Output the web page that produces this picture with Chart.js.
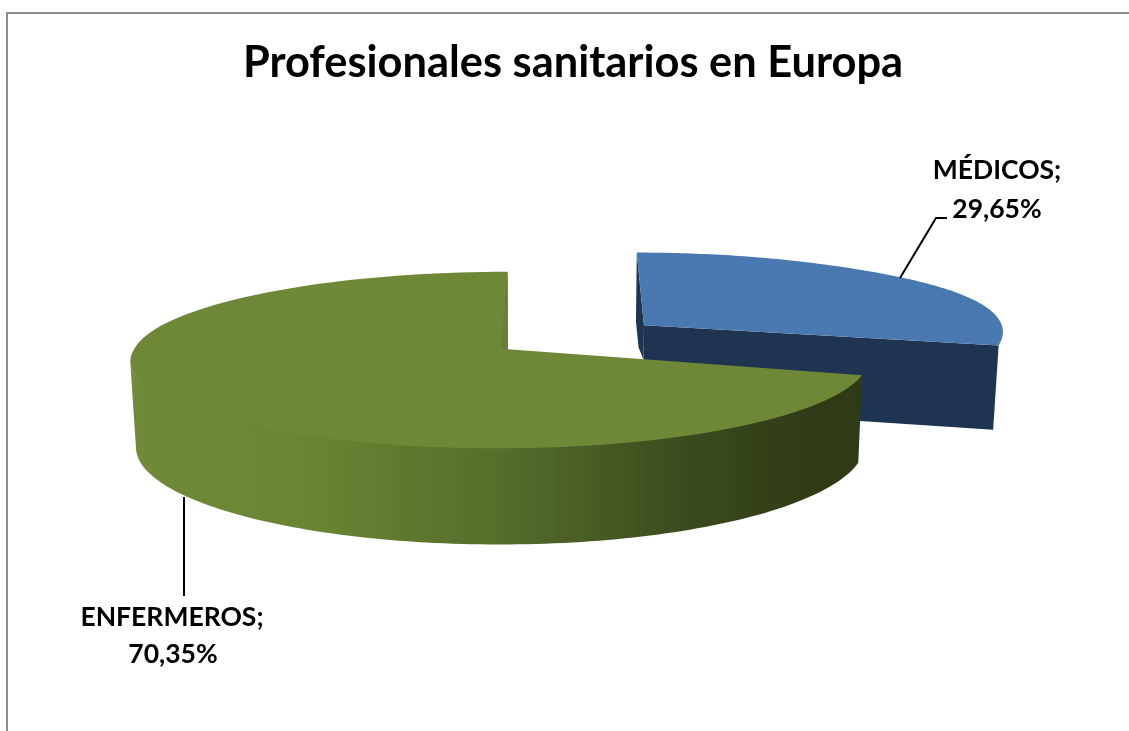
<!DOCTYPE html>
<html>
<head>
<meta charset="utf-8">
<title>Profesionales sanitarios en Europa</title>
<script src="https://cdn.jsdelivr.net/npm/chart.js@4/dist/chart.umd.min.js"></script>
<style>
  html, body { margin: 0; padding: 0; background: #fff; }
  #wrap { width: 1129px; height: 731px; }
</style>
</head>
<body>
<div id="wrap"><canvas id="chart"></canvas></div>
<script>
const categories = ['MÉDICOS', 'ENFERMEROS'];
const percentages = [29.65, 70.35];
const topColors = ['#4a79b2', '#6f8838'];
const wallColors = ['#1f3451', '#2f3b16'];

// 3D view of the pie, fitted to the picture
const EXPLODE = 0.24;   // slice pulled out, in radii
const VIEW_X = 575.5, VIEW_Y = 337;
const RADIUS_X = 360, RADIUS_Y = 84;
const DEPTH = 83;
const PERSPECTIVE = 0.12;

function project(u, v, z) {
    const f = 1 / (1 + PERSPECTIVE * v);
    return {
        x: VIEW_X + RADIUS_X * u * f * (1 - 0.013 * z),
        y: VIEW_Y + (DEPTH * z - RADIUS_Y * v) * f
    };
}

// point of a slice at a given chart angle, r = 0 is the tip of the slice
function slicePoint(arc, angle, r, z) {
    const mid = (arc.startAngle + arc.endAngle) / 2;
    const u = EXPLODE * Math.cos(mid) + r * Math.cos(angle);
    const v = -EXPLODE * Math.sin(mid) - r * Math.sin(angle);
    const p = project(u, v, z);
    if (mid > 0) {
        // near slice: cut stands upright, left side wider than the right
        p.x += 3 - 8 * Math.max(0, v + 0.14);
        p.x += u < 0 ? 4.5 * u * u * u : -9 * u;
    } else {
        // far slice: its outer corner sits a bit higher and further out
        p.x += 1.5 * u;
        p.y -= 4 * Math.pow(Math.max(0, (u - 0.6) / 0.55), 3);
    }
    return p;
}

function fillPath(ctx, points, color) {
    ctx.beginPath();
    points.forEach((p, i) => i ? ctx.lineTo(p.x, p.y) : ctx.moveTo(p.x, p.y));
    ctx.closePath();
    ctx.fillStyle = color;
    ctx.fill();
}

function rimPoints(arc, from, to, z) {
    const pts = [];
    const steps = 120;
    for (let i = 0; i <= steps; i++) {
        pts.push(slicePoint(arc, from + (to - from) * i / steps, 1, z));
    }
    return pts;
}

function drawSlice(ctx, arc, index, wallFill) {
    const a = arc.startAngle, b = arc.endAngle;
    if (index === 0) {
        // cut faces of the pulled out slice
        fillPath(ctx, [slicePoint(arc, b, 0, 0), slicePoint(arc, b, 1, 0), slicePoint(arc, b, 1, 1), slicePoint(arc, b, 0, 1)], wallColors[0]);
        const tip = slicePoint(arc, a, 0, 0);
        const rim = slicePoint(arc, a, 1, 0);
        const low = slicePoint(arc, a, 0, 0.42);
        fillPath(ctx, [rim, tip, low, { x: low.x - 5, y: low.y - 12 }, { x: tip.x - 8, y: tip.y - 4 }], wallColors[0]);
    } else {
        // outer wall ends where the rim turns away on the left
        const wallTo = Math.PI * 0.95;
        const upper = rimPoints(arc, a, wallTo, 0);
        // run it a little under the top face so no light seam shows
        upper.forEach((p, i) => { p.y -= 2 * Math.sin(Math.PI * i / (upper.length - 1)); });
        fillPath(ctx, upper.concat(rimPoints(arc, wallTo, a, 1)), wallFill);
    }
    // top face
    const top = rimPoints(arc, a, b, 0);
    top.push(slicePoint(arc, a, 0, 0));
    fillPath(ctx, top, topColors[index]);
    if (index === 1) {
        // slightly darker strip beside the cut
        const tip = slicePoint(arc, b, 0, 0);
        fillPath(ctx, [slicePoint(arc, b, 1, 0), tip, { x: tip.x - 7, y: tip.y }], '#657f35');
    }
}

const pie3d = {
    id: 'pie3d',
    beforeDraw(chart) {
        const ctx = chart.ctx;
        // frame, cut by the edge of the picture on right and bottom
        ctx.save();
        ctx.strokeStyle = '#8c8c8c';
        ctx.lineWidth = 2;
        ctx.beginPath();
        ctx.moveTo(7, 731);
        ctx.lineTo(7, 13);
        ctx.lineTo(1129, 13);
        ctx.stroke();
        ctx.restore();
    },
    beforeDatasetsDraw(chart) {
        const ctx = chart.ctx;
        const arcs = chart.getDatasetMeta(0).data;
        const grad = ctx.createLinearGradient(135, 0, 860, 0);
        grad.addColorStop(0, '#6f8a38');
        grad.addColorStop(0.25, '#698433');
        grad.addColorStop(0.5, '#566d2b');
        grad.addColorStop(0.75, '#3c4c1e');
        grad.addColorStop(0.93, '#2f3b16');
        grad.addColorStop(1, '#2f3b16');
        ctx.save();
        // far slice first
        drawSlice(ctx, arcs[0], 0, wallColors[0]);
        drawSlice(ctx, arcs[1], 1, grad);

        // leader lines
        ctx.strokeStyle = '#000';
        ctx.lineWidth = 2;
        ctx.beginPath();
        ctx.moveTo(900, 278);
        ctx.lineTo(936, 218);
        ctx.lineTo(947, 218);
        ctx.moveTo(184, 497);
        ctx.lineTo(184, 596);
        ctx.stroke();

        // data labels
        ctx.fillStyle = '#000';
        ctx.font = 'bold 26.5px Lato';
        ctx.textAlign = 'center';
        ctx.textBaseline = 'middle';
        const label = i => percentages[i].toFixed(2).replace('.', ',') + '%';
        ctx.fillText(categories[0] + ';', 997, 170);
        ctx.fillText(label(0), 997, 209);
        ctx.fillText(categories[1] + ';', 172, 617);
        ctx.fillText(label(1), 173, 654);
        ctx.restore();
        return false; // the slices are already drawn
    }
};

new Chart(document.getElementById('chart'), {
    type: 'pie',
    data: {
        labels: categories,
        datasets: [{
            data: percentages,
            backgroundColor: topColors,
            borderWidth: 0
        }]
    },
    options: {
        responsive: true,
        maintainAspectRatio: false,
        animation: false,
        layout: { padding: { left: 17 } },
        plugins: {
            legend: { display: false },
            tooltip: { enabled: false },
            title: {
                display: true,
                text: 'Profesionales sanitarios en Europa',
                color: '#000',
                font: { family: 'Lato', size: 43.4, weight: 'bold' },
                padding: { top: 37, bottom: 10 }
            }
        }
    },
    plugins: [pie3d]
});
</script>
</body>
</html>
